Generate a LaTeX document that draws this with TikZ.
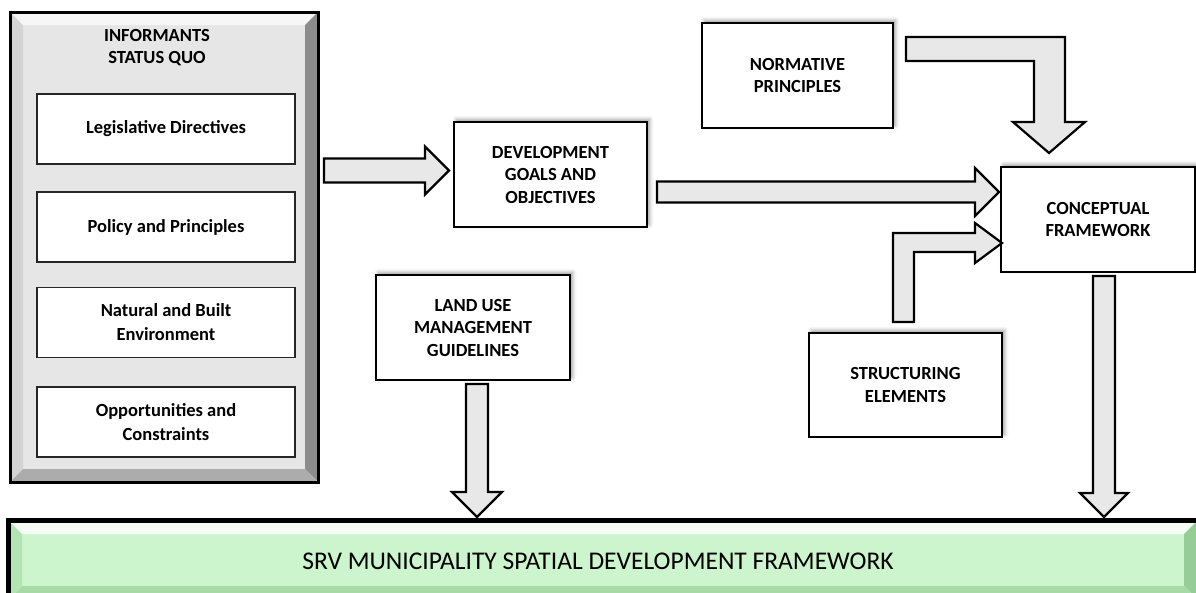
\documentclass[tikz,border=0pt]{standalone}
\usepackage{fontspec}
\setmainfont{Carlito}
\usetikzlibrary{calc,shadows.blur}

\definecolor{framefaceg}{RGB}{230,230,230}
\definecolor{bevtopg}{RGB}{246,246,246}
\definecolor{bevleftg}{RGB}{212,212,212}
\definecolor{bevrightg}{RGB}{140,140,140}
\definecolor{bevbotg}{RGB}{172,172,172}
\definecolor{barface}{RGB}{205,245,205}
\definecolor{bartop}{RGB}{244,254,244}
\definecolor{barleft}{RGB}{180,228,180}
\definecolor{barright}{RGB}{150,205,150}
\definecolor{barbottom}{RGB}{168,218,168}

\tikzset{
  boxfont/.style={font=\bfseries\fontsize{18.5}{22.5}\selectfont},
  mainbox/.style={draw=black, line width=1.3pt, fill=white, outer sep=0pt,
    align=center, boxfont,
    blur shadow={shadow xshift=2.5pt, shadow yshift=2.5pt,
      shadow blur radius=4pt, shadow opacity=40}},
  itembox/.style={draw=black!85, line width=1.3pt, fill=white, outer sep=0pt,
    align=center, minimum width=258pt, minimum height=70pt,
    font=\bfseries\fontsize{18.5}{24}\selectfont},
  blockarrow/.style={draw=black, line width=2.2pt, fill=black!9, line join=miter}
}

% horizontal block arrow: start, tip, half shaft, half head, head length
\newcommand\hblockarrow[5]{%
  \draw[blockarrow] let \p1=(#1), \p2=(#2) in
    (\x1,\y1+#3) -- (\x2-#5,\y1+#3) -- (\x2-#5,\y1+#4) -- (\x2,\y1)
    -- (\x2-#5,\y1-#4) -- (\x2-#5,\y1-#3) -- (\x1,\y1-#3) -- cycle;}
% downward block arrow: start, tip, half shaft, half head, head length
\newcommand\vblockarrow[5]{%
  \draw[blockarrow] let \p1=(#1), \p2=(#2) in
    (\x1-#3,\y1) -- (\x1-#3,\y2+#5) -- (\x1-#4,\y2+#5) -- (\x1,\y2)
    -- (\x1+#4,\y2+#5) -- (\x1+#3,\y2+#5) -- (\x1+#3,\y1) -- cycle;}
% bevelled panel on a node: node, bevel width, face, top, left, right, bottom
\newcommand\bevelpanel[7]{%
  \coordinate (oNW) at (#1.north west); \coordinate (oNE) at (#1.north east);
  \coordinate (oSW) at (#1.south west); \coordinate (oSE) at (#1.south east);
  \coordinate (iNW) at ($(#1.north west)+(#2,#2)$);
  \coordinate (iNE) at ($(#1.north east)+(-#2,#2)$);
  \coordinate (iSW) at ($(#1.south west)+(#2,-#2)$);
  \coordinate (iSE) at ($(#1.south east)+(-#2,-#2)$);
  \fill[#3] (iNW) rectangle (iSE);
  \fill[#4] (oNW) -- (oNE) -- (iNE) -- (iNW) -- cycle;
  \fill[#5] (oNW) -- (iNW) -- (iSW) -- (oSW) -- cycle;
  \fill[#6] (oNE) -- (iNE) -- (iSE) -- (oSE) -- cycle;
  \fill[#7] (oSW) -- (iSW) -- (iSE) -- (oSE) -- cycle;}

\begin{document}
\begin{tikzpicture}[x=1pt, y=-1pt]
\useasboundingbox (0,0) rectangle (1196,592);
\clip (0,0) rectangle (1196,592);

% ---------- informants frame ----------
\node[minimum width=308pt, minimum height=470pt, outer sep=0pt] (inf) at (164,247) {};
\bevelpanel{inf}{13}{framefaceg}{bevtopg}{bevleftg}{bevrightg}{bevbotg}
\draw[line width=3pt] (inf.north west) rectangle (inf.south east);
\node[align=center, boxfont] (inftitle) at ($(inf.north)+(-7,35.5)$) {INFORMANTS\\STATUS QUO};

\node[itembox] (leg) at (166,129) {Legislative Directives};
\node[itembox] (pol) at (166,227) {Policy and Principles};
\node[itembox] (nat) at (166,322.5) {Natural and Built\\Environment};
\node[itembox] (opp) at (166,422) {Opportunities and\\Constraints};

% ---------- main boxes ----------
\node[mainbox, minimum width=193pt, minimum height=105pt] (dev) at (550.5,174.5)
  {DEVELOPMENT\\GOALS AND\\OBJECTIVES};
\node[mainbox, minimum width=191pt, minimum height=105pt] (norm) at (797.5,75.5)
  {NORMATIVE\\PRINCIPLES};
\node[mainbox, minimum width=194pt, minimum height=105pt] (concept) at (1098,219.5)
  {CONCEPTUAL\\FRAMEWORK};
\node[mainbox, minimum width=194pt, minimum height=105pt] (land) at (473,327.5)
  {LAND USE\\MANAGEMENT\\GUIDELINES};
\node[mainbox, minimum width=193pt, minimum height=104pt] (struct) at (905.5,385)
  {STRUCTURING\\ELEMENTS};

% ---------- spatial development framework bar ----------
\node[minimum width=1190pt, minimum height=80pt, outer sep=0pt] (srv) at (603,560) {};
\bevelpanel{srv}{14}{barface}{bartop}{barleft}{barright}{barbottom}
\draw[line width=5pt] (srv.north west) rectangle (srv.south east);
\node[font=\fontsize{25.5}{30}\selectfont] (srvtext) at ($(srv.center)+(-5,1)$)
  {SRV MUNICIPALITY SPATIAL DEVELOPMENT FRAMEWORK};

% ---------- block arrows ----------
% informants -> development goals
\coordinate (a1tip) at ($(dev.west)+(-5,-4)$);
\coordinate (a1start) at ($(inf.east |- a1tip)+(6,0)$);
\hblockarrow{a1start}{a1tip}{12pt}{24pt}{24pt}

% development goals -> conceptual framework
\coordinate (a2tip) at ($(concept.north west)+(-2,25)$);
\coordinate (a2start) at ($(dev.east |- a2tip)+(10,0)$);
\hblockarrow{a2start}{a2tip}{10.5pt}{24pt}{24pt}

% normative principles -> conceptual framework (bent)
\coordinate (nstart) at ($(norm.north east)+(13,14)$);
\coordinate (ntip) at ($(concept.north)+(-49,-14)$);
\draw[blockarrow] let \p1=(nstart), \p2=(ntip) in
  (\x1,\y1) -- (\x2+16pt,\y1) -- (\x2+16pt,\y2+31pt) -- (\x2+36pt,\y2+31pt)
  -- (\x2,\y2) -- (\x2-36pt,\y2+31pt) -- (\x2-15pt,\y2+31pt)
  -- (\x2-15pt,\y1-24pt) -- (\x1,\y1-24pt) -- cycle;

% structuring elements -> conceptual framework (bent)
\coordinate (sstart) at ($(struct.north)+(-12.5,-11)$);
\coordinate (stip) at ($(concept.west)+(1,23.5)$);
\draw[blockarrow] let \p1=(sstart), \p2=(stip) in
  (\x1,\y1) -- (\x1,\y2+10pt) -- (\x2-27pt,\y2+10pt) -- (\x2-27pt,\y2+20pt)
  -- (\x2,\y2) -- (\x2-27pt,\y2-20pt) -- (\x2-27pt,\y2-9pt)
  -- (\x1+21pt,\y2-9pt) -- (\x1+21pt,\y1) -- cycle;

% conceptual framework -> SDF bar
\coordinate (a5start) at ($(concept.south)+(6,4)$);
\coordinate (a5tip) at ($(a5start |- srv.north)+(0,-3)$);
\vblockarrow{a5start}{a5tip}{11pt}{24pt}{24pt}

% land use guidelines -> SDF bar
\coordinate (a6start) at ($(land.south)+(4,4)$);
\coordinate (a6tip) at ($(a6start |- srv.north)+(0,-3)$);
\vblockarrow{a6start}{a6tip}{11pt}{25pt}{25pt}
\end{tikzpicture}
\end{document}
